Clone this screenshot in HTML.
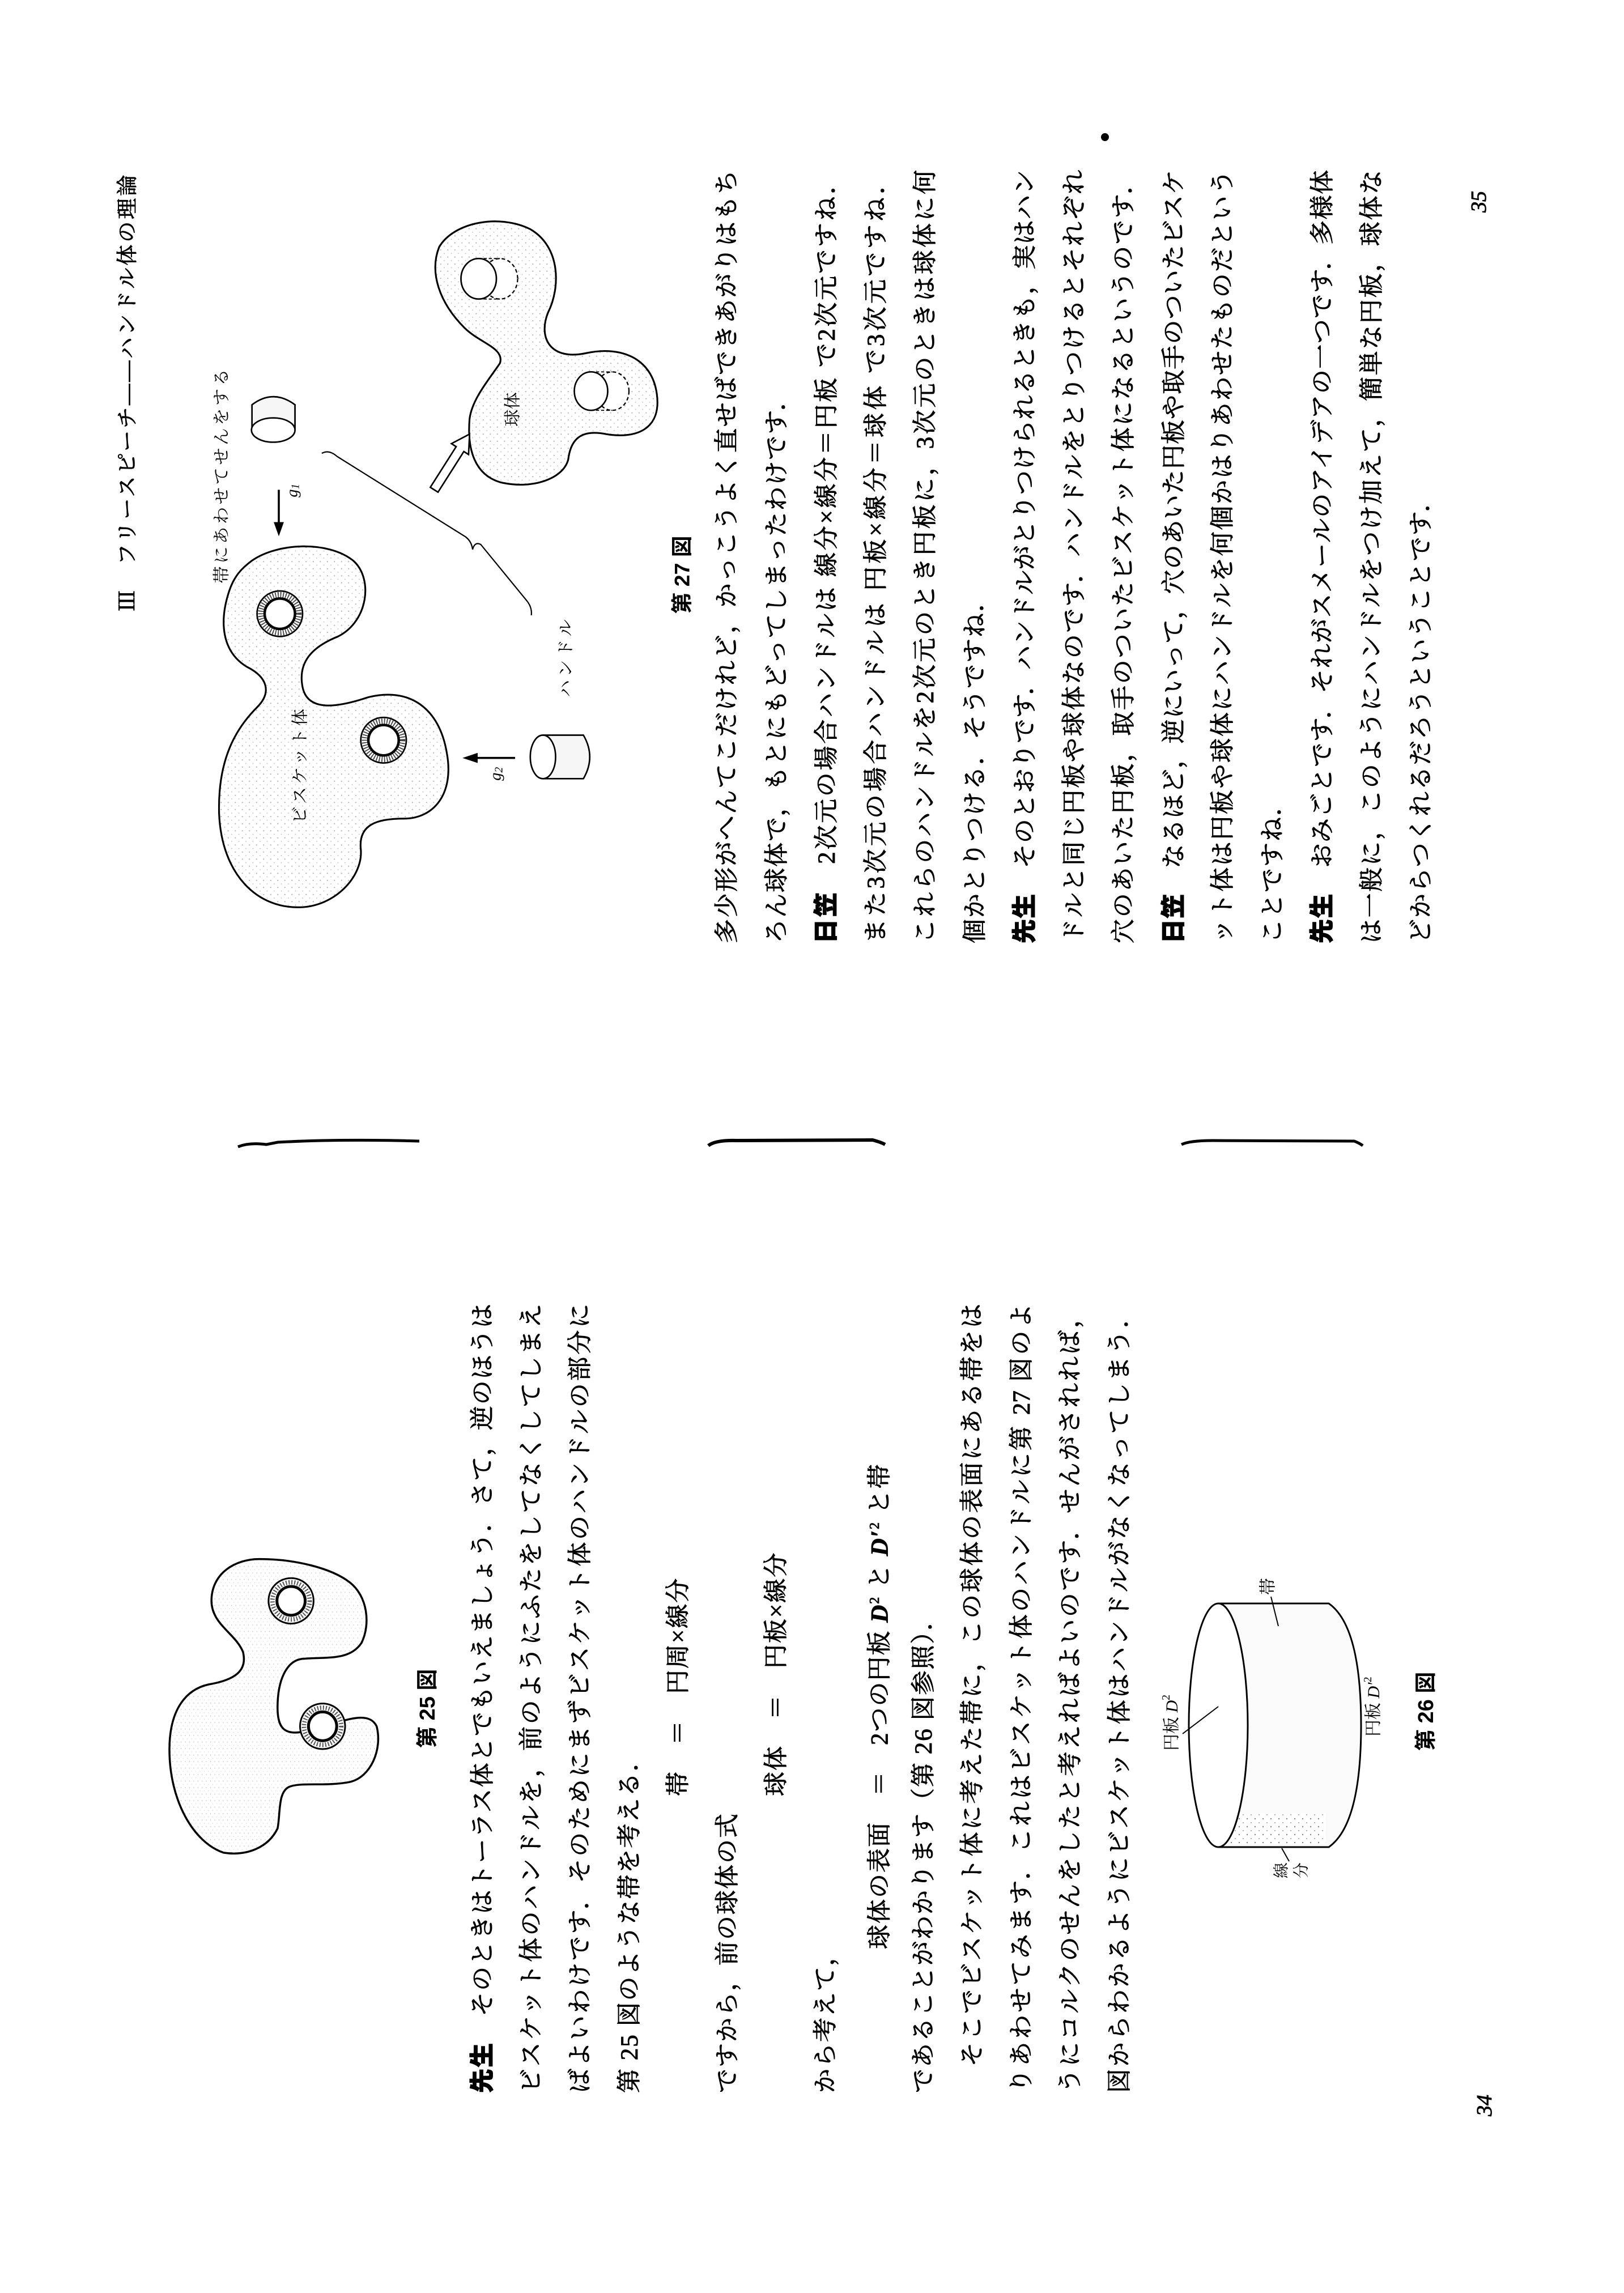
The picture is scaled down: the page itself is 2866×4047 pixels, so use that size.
<!DOCTYPE html>
<html><head><meta charset="utf-8">
<style>
html,body{margin:0;padding:0;background:#fff;}
body{width:2866px;height:4047px;position:relative;overflow:hidden;}
.ln{position:absolute;height:60px;line-height:60px;transform:rotate(-90deg);transform-origin:0 0;white-space:nowrap;font-family:"Liberation Serif","Noto Serif CJK SC",serif;font-size:43px;letter-spacing:2px;color:#000;-webkit-text-stroke:0.9px #000;}
.j{width:1393px;text-align:justify;text-align-last:justify;letter-spacing:0;}
.jr{width:1365px;}
.ln b{font-family:"Liberation Sans","Noto Sans CJK JP",sans-serif;font-weight:900;}
.hd{font-size:37px;letter-spacing:4px;}
.pn{font-size:38px;font-style:italic;letter-spacing:0;}
svg{position:absolute;left:0;top:0;}
svg text{font-family:"Liberation Serif","Noto Serif CJK SC",serif;fill:#000;}
</style></head><body>

<svg width="2866" height="4047" viewBox="0 0 2866 4047">
<defs>
<pattern id="dots" width="14" height="14" patternUnits="userSpaceOnUse">
<rect width="14" height="14" fill="#fff"/>
<circle cx="3" cy="4" r="1.2" fill="#777"/>
<circle cx="10" cy="11" r="1" fill="#888"/>
</pattern>
</defs>

<path d="M420 2024 Q440 2016 470 2020 L490 2016 Q600 2010 740 2014" stroke="#000" stroke-width="5" fill="none"/>
<path d="M1250 2022 Q1262 2012 1300 2013 L1540 2012 Q1555 2016 1562 2020" stroke="#000" stroke-width="6" fill="none"/>
<path d="M2085 2020 Q2100 2013 2140 2013 L2390 2014 Q2400 2018 2405 2022" stroke="#000" stroke-width="5" fill="none"/>
<circle cx="1950" cy="242" r="7" fill="#000"/>

<g transform="translate(150,150) scale(0.893)">
 <path d="M330 940 C380 905,480 900,530 940 C570 975,560 1060,500 1090 C450 1110,420 1140,430 1190 C440 1240,500 1230,560 1210 C640 1190,700 1230,715 1320 C730 1400,690 1450,630 1450 C580 1450,540 1460,545 1510 C550 1560,500 1620,430 1625 C340 1630,270 1560,265 1440 C262 1330,300 1270,340 1230 C370 1200,360 1170,320 1150 C270 1120,265 1060,285 1000 C295 970,310 955,330 940 Z" fill="url(#dots)" fill-opacity="0.6" stroke="#000" stroke-width="3.5"/>
 <circle cx="385" cy="1045" r="45" fill="#fff" stroke="#000" stroke-width="3"/>
 <circle cx="385" cy="1045" r="37" fill="none" stroke="#444" stroke-width="12" stroke-dasharray="2 3"/>
 <circle cx="385" cy="1045" r="30" fill="#fff" stroke="#000" stroke-width="5"/>
 <circle cx="590" cy="1295" r="45" fill="#fff" stroke="#000" stroke-width="3"/>
 <circle cx="590" cy="1295" r="37" fill="none" stroke="#444" stroke-width="12" stroke-dasharray="2 3"/>
 <circle cx="590" cy="1295" r="30" fill="#fff" stroke="#000" stroke-width="5"/>
 <path d="M700 320 C730 270,820 255,880 285 C940 320,940 400,915 450 C895 500,920 545,990 530 C1060 515,1120 540,1130 610 C1140 680,1090 700,1030 690 C980 680,960 700,955 740 C945 780,880 800,820 785 C770 770,755 720,760 660 C765 620,800 580,820 550 C830 520,780 510,750 480 C700 430,680 370,700 320 Z" fill="url(#dots)" fill-opacity="0.6" stroke="#000" stroke-width="3.5"/>
 <ellipse cx="820" cy="383" rx="35" ry="40" fill="#fff" stroke="#000" stroke-width="2.5" stroke-dasharray="7 5"/>
 <path d="M778 343 L820 343 M778 423 L820 423" stroke="#000" stroke-width="2" stroke-dasharray="6 4"/>
 <ellipse cx="778" cy="383" rx="35" ry="40" fill="#fff" stroke="#000" stroke-width="3"/>
 <ellipse cx="1042" cy="605" rx="33" ry="38" fill="#fff" stroke="#000" stroke-width="2.5" stroke-dasharray="7 5"/>
 <path d="M1000 567 L1042 567 M1000 643 L1042 643" stroke="#000" stroke-width="2" stroke-dasharray="6 4"/>
 <ellipse cx="1000" cy="605" rx="33" ry="38" fill="#fff" stroke="#000" stroke-width="3"/>
 <path d="M330 682 L330 632 Q372 600 415 632 L415 682" fill="#f6f6f6" stroke="#000" stroke-width="3"/>
 <ellipse cx="372" cy="682" rx="43" ry="24" fill="#fff" stroke="#000" stroke-width="3"/>
 <path d="M905 1285 L985 1285 Q1010 1328 985 1371 L905 1371" fill="#f6f6f6" stroke="#000" stroke-width="3"/>
 <ellipse cx="905" cy="1328" rx="25" ry="43" fill="#fff" stroke="#000" stroke-width="3"/>
 <line x1="383" y1="800" x2="383" y2="870" stroke="#000" stroke-width="4"/>
 <polygon points="373,864 393,864 383,892" fill="#000"/>
 <line x1="850" y1="1330" x2="770" y2="1330" stroke="#000" stroke-width="4"/>
 <polygon points="776,1320 776,1340 746,1330" fill="#000"/>
 <path d="M468 728 Q482 720 498 734 L752 893 Q764 902 766 918 Q770 902 782 908 L872 1018 Q884 1032 882 1048" fill="none" stroke="#000" stroke-width="2.5"/>
 <polygon points="682.4,795.2 733.5,714.8 724.2,708.8 760,690 758,730.4 748.7,724.4 697.6,804.8" fill="#fff" stroke="#000" stroke-width="3"/>
 <text transform="translate(270,985) rotate(-90)" font-size="34" dominant-baseline="central" letter-spacing="5">帯にあわせてせんをする</text>
 <text transform="translate(410,815) rotate(-90)" font-size="32" dominant-baseline="central" font-style="italic">g<tspan font-size="22" dy="6">1</tspan></text>
 <text transform="translate(812,1375) rotate(-90)" font-size="32" dominant-baseline="central" font-style="italic">g<tspan font-size="22" dy="6">2</tspan></text>
 <text transform="translate(950,1210) rotate(-90)" font-size="34" dominant-baseline="central" letter-spacing="6">ハンドル</text>
 <text transform="translate(425,1460) rotate(-90)" font-size="34" dominant-baseline="central" letter-spacing="5">ビスケット体</text>
 <text transform="translate(845,675) rotate(-90)" font-size="34" dominant-baseline="central">球体</text>
 <text transform="translate(1180,1045) rotate(-90)" font-size="42" dominant-baseline="central" font-weight="bold" style="font-family:'Liberation Sans','Noto Sans CJK JP',sans-serif">第 27 図</text>
</g>

<g transform="translate(140,2440) scale(0.53,0.82)">
 <path d="M480 1012 C380 990,300 900,300 790 C300 700,360 660,430 650 C520 640,560 620,545 580 C520 540,440 520,440 470 C440 410,520 380,600 380 C720 380,840 400,900 430 C960 460,970 520,940 560 C900 600,820 590,740 595 C690 600,660 640,660 700 C660 750,690 760,760 750 C860 735,960 700,990 740 C1010 790,970 850,900 860 C820 870,740 860,700 870 C660 880,670 930,660 960 C630 1000,560 1020,480 1012 Z" fill="url(#dots)" fill-opacity="0.5" stroke="#000" stroke-width="3.5" vector-effect="non-scaling-stroke"/>
 <ellipse cx="705" cy="470" rx="75" ry="49" fill="#fff" stroke="#000" stroke-width="3" vector-effect="non-scaling-stroke"/>
 <ellipse cx="705" cy="470" rx="62" ry="40" fill="none" stroke="#555" stroke-width="8" stroke-dasharray="2 3" vector-effect="non-scaling-stroke"/>
 <ellipse cx="705" cy="470" rx="47" ry="31" fill="#fff" stroke="#000" stroke-width="5" vector-effect="non-scaling-stroke"/>
 <ellipse cx="810" cy="740" rx="75" ry="49" fill="#fff" stroke="#000" stroke-width="3" vector-effect="non-scaling-stroke"/>
 <ellipse cx="810" cy="740" rx="62" ry="40" fill="none" stroke="#555" stroke-width="8" stroke-dasharray="2 3" vector-effect="non-scaling-stroke"/>
 <ellipse cx="810" cy="740" rx="47" ry="31" fill="#fff" stroke="#000" stroke-width="5" vector-effect="non-scaling-stroke"/>
</g>
<text transform="translate(755,3085) rotate(-90)" font-size="38" dominant-baseline="central" font-weight="bold" style="font-family:'Liberation Sans','Noto Sans CJK JP',sans-serif">第 25 図</text>

<path d="M2150 2830 L2345 2830 Q2402 2870 2402 3045 Q2402 3220 2345 3260 L2150 3260" fill="#fafafa" stroke="#000" stroke-width="3"/>
<rect x="2160" y="3200" width="180" height="55" fill="url(#dots)" opacity="0.9"/>
<ellipse cx="2150" cy="3045" rx="52" ry="215" fill="#fff" stroke="#000" stroke-width="3"/>
<line x1="2243" y1="2818" x2="2256" y2="2870" stroke="#000" stroke-width="2"/>
<line x1="2087" y1="3060" x2="2150" y2="3012" stroke="#000" stroke-width="2"/>
<line x1="2262" y1="3262" x2="2275" y2="3285" stroke="#000" stroke-width="2"/>
<text transform="translate(2238,2815) rotate(-90)" font-size="30" dominant-baseline="central">帯</text>
<text transform="translate(2068,3090) rotate(-90)" font-size="30" dominant-baseline="central">円板 <tspan font-style="italic">D</tspan><tspan font-size="20" dy="-10">2</tspan></text>
<text transform="translate(2424,3065) rotate(-90)" font-size="30" dominant-baseline="central">円板 <tspan font-style="italic">D′</tspan><tspan font-size="20" dy="-10">2</tspan></text>
<text transform="translate(2262,3315) rotate(-90)" font-size="28" dominant-baseline="central">線</text>
<text transform="translate(2297,3315) rotate(-90)" font-size="28" dominant-baseline="central">分</text>
<text transform="translate(2517,3090) rotate(-90)" font-size="38" dominant-baseline="central" font-weight="bold" style="font-family:'Liberation Sans','Noto Sans CJK JP',sans-serif">第 26 図</text>
</svg>

<div class="ln hd" style="left:196px;top:1079px;">Ⅲ　フリースピーチ――ハンドル体の理論</div>
<div class="ln pn" style="left:2580px;top:375px;">35</div>
<div class="ln pn" style="left:2590px;top:3735px;">34</div>

<div class="ln j" style="left:822px;top:3694px;"><b>先生</b>　そのときはトーラス体とでもいえましょう．さて，逆のほうは</div>
<div class="ln j" style="left:909px;top:3694px;">ビスケット体のハンドルを，前のようにふたをしてなくしてしまえ</div>
<div class="ln j" style="left:995px;top:3694px;">ばよいわけです．そのためにまずビスケット体のハンドルの部分に</div>
<div class="ln" style="left:1082px;top:3694px;">第 25 図のような帯を考える．</div>
<div class="ln" style="left:1168px;top:3170px;">帯　＝　円周×線分</div>
<div class="ln" style="left:1255px;top:3694px;">ですから，前の球体の式</div>
<div class="ln" style="left:1341px;top:3170px;">球体　＝　円板×線分</div>
<div class="ln" style="left:1428px;top:3694px;">から考えて，</div>
<div class="ln" style="left:1514px;top:3440px;">球体の表面　＝　2つの円板 <i><b style="font-family:'Liberation Serif',serif">D</b></i><sup style="font-size:24px">2</sup> と <i><b style="font-family:'Liberation Serif',serif">D′</b></i><sup style="font-size:24px">2</sup> と帯</div>
<div class="ln" style="left:1601px;top:3694px;">であることがわかります（第 26 図参照）．</div>
<div class="ln j" style="left:1687px;top:3694px;">　そこでビスケット体に考えた帯に，この球体の表面にある帯をは</div>
<div class="ln j" style="left:1774px;top:3694px;">りあわせてみます．これはビスケット体のハンドルに第 27 図のよ</div>
<div class="ln j" style="left:1860px;top:3694px;">うにコルクのせんをしたと考えればよいのです．せんがされれば，</div>
<div class="ln j" style="left:1947px;top:3694px;">図からわかるようにビスケット体はハンドルがなくなってしまう．</div>

<div class="ln j jr" style="left:1254px;top:1665px;">多少形がへんてこだけれど，かっこうよく直せばできあがりはもち</div>
<div class="ln" style="left:1342px;top:1665px;">ろん球体で，もとにもどってしまったわけです．</div>
<div class="ln j jr" style="left:1429px;top:1665px;"><b>日笠</b>　2次元の場合ハンドルは 線分×線分＝円板 で2次元ですね．</div>
<div class="ln j jr" style="left:1517px;top:1665px;">また3次元の場合ハンドルは 円板×線分＝球体 で3次元ですね．</div>
<div class="ln j jr" style="left:1604px;top:1665px;">これらのハンドルを2次元のとき円板に，3次元のときは球体に何</div>
<div class="ln" style="left:1692px;top:1665px;">個かとりつける．そうですね．</div>
<div class="ln j jr" style="left:1779px;top:1665px;"><b>先生</b>　そのとおりです．ハンドルがとりつけられるときも，実はハン</div>
<div class="ln j jr" style="left:1867px;top:1665px;">ドルと同じ円板や球体なのです．ハンドルをとりつけるとそれぞれ</div>
<div class="ln j jr" style="left:1954px;top:1665px;">穴のあいた円板，取手のついたビスケット体になるというのです．</div>
<div class="ln j jr" style="left:2042px;top:1665px;"><b>日笠</b>　なるほど，逆にいって，穴のあいた円板や取手のついたビスケ</div>
<div class="ln j jr" style="left:2129px;top:1665px;">ット体は円板や球体にハンドルを何個かはりあわせたものだという</div>
<div class="ln" style="left:2217px;top:1665px;">ことですね．</div>
<div class="ln j jr" style="left:2304px;top:1665px;"><b>先生</b>　おみごとです．それがスメールのアイデアの一つです．多様体</div>
<div class="ln j jr" style="left:2392px;top:1665px;">は一般に，このようにハンドルをつけ加えて，簡単な円板，球体な</div>
<div class="ln" style="left:2479px;top:1665px;">どからつくれるだろうということです．</div>

</body></html>
